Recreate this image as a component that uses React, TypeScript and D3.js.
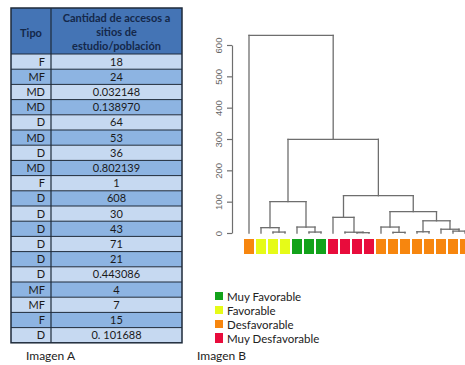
import React, { useEffect, useRef } from 'react';
import * as d3 from 'd3';

// Imagen A: table
const tipos = ['F', 'MF', 'MD', 'MD', 'D', 'MD', 'D', 'MD', 'F', 'D', 'D', 'D', 'D', 'D', 'D', 'MF', 'MF', 'F', 'D'];
const cantidades = ['18', '24', '0.032148', '0.138970', '64', '53', '36', '0.802139', '1', '608', '30', '43', '71', '21', '0.443086', '4', '7', '15', '0. 101688'];
const headerLines = ['Cantidad de accesos a', 'sitios de', 'estudio/población'];

// Imagen B: dendrogram, leaves in plotted order
const leafTipo = ['D', 'F', 'F', 'F', 'MF', 'MF', 'MF', 'MD', 'MD', 'MD', 'MD', 'D', 'D', 'D', 'D', 'D', 'D', 'D', 'D'];
// hclust-like merge rows: negative = leaf (1-based), positive = earlier merge row
const merges: [number, number][] = [
  [-3, -4], [-2, 1], [-6, -7], [-5, 3], [2, 4],
  [-10, -11], [-9, 6], [-8, 7],
  [-13, -14], [-12, 9], [-15, -16], [-18, -19], [-17, 12], [11, 13], [10, 14],
  [8, 15], [5, 16], [-1, 17],
];
const mergeHeights = [3, 17, 3, 19, 100, 1, 2.5, 50, 2, 19, 4, 6, 12, 39, 68, 119, 299, 631];
const yTicks = [0, 100, 200, 300, 400, 500, 600];

const legendItems = ['Muy Favorable', 'Favorable', 'Desfavorable', 'Muy Desfavorable'];
const legendTipo = ['MF', 'F', 'D', 'MD'];
const tipoColor: Record<string, string> = { MF: '#12a21a', F: '#e6fb18', D: '#f7860e', MD: '#e80c3c' };

const FONT = 'Lato, "Open Sans", sans-serif';

const App = () => {
  const ref = useRef<SVGSVGElement>(null);

  useEffect(() => {
    const svg = d3.select(ref.current);
    svg.selectAll('*').remove();

    // ---------- table ----------
    const tx0 = 11, tx1 = 182, tcol = 51, ttop = 8, thead = 46, rowH = 15.2;
    const t = svg.append('g');
    t.append('rect').attr('x', tx0).attr('y', ttop).attr('width', tx1 - tx0).attr('height', thead).attr('fill', '#4474b5');
    const rowY = d3.scaleBand<number>().domain(d3.range(tipos.length)).range([ttop + thead, ttop + thead + rowH * tipos.length]);
    t.selectAll('rect.row')
      .data(tipos)
      .enter()
      .append('rect')
      .attr('x', tx0)
      .attr('y', (d, i) => rowY(i)!)
      .attr('width', tx1 - tx0)
      .attr('height', rowY.bandwidth())
      .attr('fill', (d, i) => (i % 2 === 0 ? '#c6d9f1' : '#8db4e2'));
    t.selectAll('line.row')
      .data(tipos)
      .enter()
      .append('line')
      .attr('x1', tx0).attr('x2', tx1)
      .attr('y1', (d, i) => rowY(i)!).attr('y2', (d, i) => rowY(i)!)
      .attr('stroke', '#1e2a3a').attr('stroke-width', 1);
    const tbottom = ttop + thead + rowH * tipos.length;
    t.append('line').attr('x1', tcol).attr('x2', tcol).attr('y1', ttop).attr('y2', tbottom).attr('stroke', '#1e2a3a').attr('stroke-width', 1.2);
    t.append('rect').attr('x', tx0).attr('y', ttop).attr('width', tx1 - tx0).attr('height', tbottom - ttop)
      .attr('fill', 'none').attr('stroke', '#1e2a3a').attr('stroke-width', 1.5);

    t.append('text').attr('x', (tx0 + tcol) / 2).attr('y', ttop + 29).attr('text-anchor', 'middle')
      .attr('font-family', FONT).attr('font-weight', 'bold').attr('font-size', 11).attr('fill', '#14284a').text('Tipo');
    t.selectAll('text.h')
      .data(headerLines)
      .enter()
      .append('text')
      .attr('x', (tcol + tx1) / 2)
      .attr('y', (d, i) => ttop + 14 + i * 14)
      .attr('text-anchor', 'middle')
      .attr('font-family', FONT).attr('font-weight', 'bold').attr('font-size', 11).attr('fill', '#14284a')
      .text((d) => d);
    t.selectAll('text.tipo')
      .data(tipos)
      .enter()
      .append('text')
      .attr('x', tcol - 6)
      .attr('y', (d, i) => rowY(i)! + 11.5)
      .attr('text-anchor', 'end')
      .attr('font-family', FONT).attr('font-size', 11).attr('fill', '#1a1a1a')
      .text((d) => d);
    t.selectAll('text.val')
      .data(cantidades)
      .enter()
      .append('text')
      .attr('x', (tcol + tx1) / 2)
      .attr('y', (d, i) => rowY(i)! + 11.5)
      .attr('text-anchor', 'middle')
      .attr('font-family', FONT).attr('font-size', 11).attr('fill', '#1a1a1a')
      .text((d) => d);

    svg.append('text').attr('x', 26).attr('y', 360).attr('font-family', FONT).attr('font-size', 12).attr('fill', '#222').text('Imagen A');
    svg.append('text').attr('x', 197).attr('y', 360).attr('font-family', FONT).attr('font-size', 12).attr('fill', '#222').text('Imagen B');

    // ---------- dendrogram ----------
    const x = d3.scaleLinear().domain([0, leafTipo.length - 1]).range([249, 249 + 12 * (leafTipo.length - 1)]);
    const y = d3.scaleLinear().domain([0, 600]).range([233, 45]);

    type N = { pos: number; h: number };
    const nodes: N[] = [];
    const get = (k: number): N => (k < 0 ? { pos: -k - 1, h: 0 } : nodes[k - 1]);
    const segs: [number, number, number, number][] = [];
    merges.forEach(([a, b], i) => {
      const na = get(a), nb = get(b), h = mergeHeights[i];
      segs.push([x(na.pos), y(na.h), x(na.pos), y(h)]);
      segs.push([x(nb.pos), y(nb.h), x(nb.pos), y(h)]);
      segs.push([x(na.pos), y(h), x(nb.pos), y(h)]);
      nodes.push({ pos: (na.pos + nb.pos) / 2, h });
    });
    const g = svg.append('g');
    g.selectAll('line')
      .data(segs)
      .enter()
      .append('line')
      .attr('x1', (d) => d[0]).attr('y1', (d) => d[1])
      .attr('x2', (d) => d[2]).attr('y2', (d) => d[3])
      .attr('stroke', '#6e6e6e').attr('stroke-width', 1.3).attr('stroke-linecap', 'square');

    g.selectAll('rect')
      .data(leafTipo)
      .enter()
      .append('rect')
      .attr('x', (d, i) => x(i) - 5)
      .attr('y', 239)
      .attr('width', 10)
      .attr('height', 15)
      .attr('fill', (d) => tipoColor[d]);

    const ax = svg.append('g').attr('transform', 'translate(232,0)');
    ax.call(d3.axisLeft(y).tickValues(yTicks).tickSize(5).tickSizeOuter(0));
    ax.select('.domain').attr('stroke', '#6e6e6e').attr('stroke-width', 1.2);
    ax.selectAll('.tick line').attr('stroke', '#6e6e6e').attr('stroke-width', 1.2);
    ax.selectAll('.tick text')
      .attr('transform', 'rotate(-90)')
      .attr('x', 0).attr('y', -10).attr('dy', 0)
      .attr('text-anchor', 'middle')
      .attr('fill', '#666')
      .attr('font-family', 'Liberation Sans, sans-serif')
      .attr('font-size', 9.5);

    // legend
    const lg = svg.append('g');
    const lY = [292, 306, 320, 333];
    const lH = [8, 8, 8, 10];
    const lBase = [301, 315, 329, 343];
    legendItems.forEach((name, i) => {
      lg.append('rect').attr('x', 215).attr('y', lY[i]).attr('width', 8).attr('height', lH[i]).attr('fill', tipoColor[legendTipo[i]]);
      lg.append('text').attr('x', 227).attr('y', lBase[i]).attr('font-family', FONT).attr('font-size', 11.5).attr('fill', '#222').text(name);
    });
  }, []);

  return (
    <svg
      ref={ref}
      width={465}
      height={365}
      style={{ position: 'absolute', left: 0, top: 0, background: '#fff' }}
    />
  );
};

export default App;
